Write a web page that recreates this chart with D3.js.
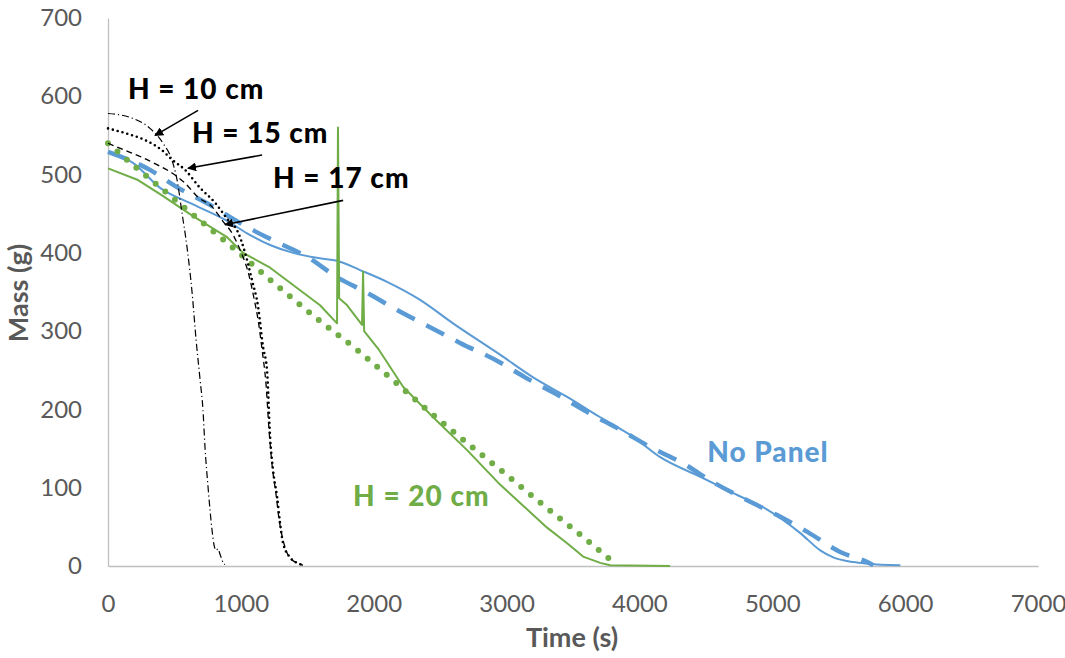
<!DOCTYPE html>
<html>
<head>
<meta charset="utf-8">
<script src="https://cdn.jsdelivr.net/npm/d3@7"></script>
<style>
  body { margin: 0; background: #fff; }
  #chart text { font-family: Lato, "Open Sans", sans-serif; }
</style>
</head>
<body>
<div id="chart"></div>
<script>
// Mass loss vs time, panel height series + no-panel reference
// values: [time s, mass g]

const xTicks = [0, 1000, 2000, 3000, 4000, 5000, 6000, 7000];
const yTicks = [0, 100, 200, 300, 400, 500, 600, 700];

const h10 = [[0,578],[166,573],[316,559],[414,540],[482,518],[520,493],[557,451],[595,407],
  [633,349],[663,289],[693,238],[715,199],[730,152],[753,101],[783,46],[798,27],[813,20],
  [828,22],[843,15],[858,8],[866,4],[880,2]];

const h15 = [[0,559],[128,553],[279,544],[407,531],[482,519],[580,506],[693,483],[806,464],
  [904,442],[971,429],[1032,400],[1084,365],[1130,331],[1167,280],[1197,250],[1220,165],
  [1242,123],[1273,88],[1295,55],[1318,29],[1370,11],[1423,4],[1483,1]];

const h17 = [[0,540],[128,531],[256,522],[376,512],[482,502],[580,489],[678,471],[783,459],
  [858,442],[941,423],[1001,401],[1054,376],[1099,342],[1130,314],[1160,276],[1190,231],
  [1212,174],[1235,129],[1265,91],[1288,59],[1318,33],[1355,14],[1408,5],[1468,1]];

const h20Exp = [[0,508],[226,493],[392,475],[640,447],[896,420],[1017,400],[1220,381],
  [1393,359],[1596,333],[1724,310],[1731,560],[1740,342],[1800,333],[1912,308],[1920,376],
  [1928,300],[2040,276],[2221,229],[2447,190],[2703,148],[2951,104],[3305,49],[3456,29],
  [3576,12],[3705,4],[3780,1],[4231,0]];

const h20Model = [[0,540],[218,508],[369,487],[595,455],[896,413],[1197,369],[1559,318],
  [1875,276],[2161,235],[2447,193],[2748,151],[2974,120],[3275,78],[3576,37],[3802,5]];

const noPanelExp = [[0,529],[188,515],[392,483],[640,462],[896,441],[1047,425],[1220,410],
  [1393,400],[1596,393],[1724,390],[1897,378],[2100,363],[2349,340],[2597,310],[2951,270],
  [3200,241],[3456,216],[3705,190],[3953,165],[4157,139],[4458,114],[4706,93],[4962,72],
  [5211,42],[5361,20],[5459,11],[5610,5],[5715,3],[5964,1]];

const noPanelModel = [[0,529],[316,506],[519,484],[790,459],[994,438],[1242,416],[1498,395],
  [1724,369],[1950,349],[2176,327],[2424,305],[2650,285],[2951,260],[3139,241],[3380,219],
  [3614,196],[3855,174],[4081,152],[4330,131],[4555,107],[4811,84],[5036,65],[5270,43],
  [5511,18],[5715,5],[5760,1]];

const blue = "#5b9bd5", green = "#70ad47", grey = "#595959";

const width = 1065, height = 658;
const margin = { top: 18, right: 27, bottom: 92, left: 108 };
const innerWidth  = width  - margin.left - margin.right;
const innerHeight = height - margin.top  - margin.bottom;

const svg = d3.select("#chart").append("svg")
  .attr("width", width)
  .attr("height", height);

const g = svg.append("g")
  .attr("transform", `translate(${margin.left},${margin.top})`);

const x = d3.scaleLinear().domain([0, 7000]).range([0, innerWidth]);
const y = d3.scaleLinear().domain([0, 700]).range([innerHeight, 0]);

// axes
const yAxis = g.append("g")
  .call(d3.axisLeft(y).tickValues(yTicks).tickFormat(d3.format("d"))
    .tickSize(0).tickSizeOuter(0).tickPadding(26));
const xAxis = g.append("g")
  .attr("transform", `translate(0,${innerHeight})`)
  .call(d3.axisBottom(x).tickValues(xTicks).tickFormat(d3.format("d"))
    .tickSize(0).tickSizeOuter(0).tickPadding(29));

[yAxis, xAxis].forEach(a => {
  a.select(".domain").attr("stroke", "#bfbfbf").attr("stroke-width", 1.3);
  a.selectAll("text")
    .style("font-size", "24px")
    .style("font-family", "Lato, sans-serif")
    .attr("fill", grey);
});

// axis titles
g.append("text")
  .attr("transform", "rotate(-90)")
  .attr("x", -(293 - margin.top))
  .attr("y", 28 - margin.left)
  .attr("text-anchor", "middle")
  .style("font-size", "27px")
  .style("font-weight", "bold")
  .attr("fill", grey)
  .text("Mass (g)");

g.append("text")
  .attr("x", 572 - margin.left)
  .attr("y", 647 - margin.top)
  .attr("text-anchor", "middle")
  .style("font-size", "27px")
  .style("font-weight", "bold")
  .attr("fill", grey)
  .text("Time (s)");

// lines
const line = d3.line()
  .x(d => x(d[0]))
  .y(d => y(d[1]))
  .curve(d3.curveMonotoneX);

const straight = d3.line()
  .x(d => x(d[0]))
  .y(d => y(d[1]));

const series = [
  { data: noPanelExp,   gen: line,     color: blue,   w: 2 },
  { data: noPanelModel, gen: line,     color: blue,   w: 4.5, dash: "20,13" },
  { data: h20Exp,       gen: straight, color: green,  w: 2 },
  { data: h20Model,     gen: line,     color: green,  w: 6, dash: "0,12.5", cap: "round" },
  { data: h17,          gen: line,     color: "#000", w: 1.3, dash: "6,4" },
  { data: h15,          gen: line,     color: "#000", w: 2.6, dash: "0,5", cap: "round" },
  { data: h10,          gen: line,     color: "#000", w: 1.2, dash: "7,3,1.2,3" }
];

series.forEach(s => {
  g.append("path")
    .datum(s.data)
    .attr("fill", "none")
    .attr("stroke", s.color)
    .attr("stroke-width", s.w)
    .attr("stroke-dasharray", s.dash || null)
    .attr("stroke-linecap", s.cap || "butt")
    .attr("stroke-linejoin", "round")
    .attr("d", s.gen);
});

// annotations (time, mass)
svg.append("defs").append("marker")
  .attr("id", "head")
  .attr("viewBox", "0 0 10 10")
  .attr("refX", 9).attr("refY", 5)
  .attr("markerWidth", 9).attr("markerHeight", 9)
  .attr("markerUnits", "userSpaceOnUse")
  .attr("orient", "auto")
  .append("path")
  .attr("d", "M0,0 L10,5 L0,10 Z")
  .attr("fill", "#000");

const labels = [
  { text: "H = 10 cm", t: 150,  m: 597, color: "#000" },
  { text: "H = 15 cm", t: 632,  m: 540, color: "#000" },
  { text: "H = 17 cm", t: 1242, m: 483, color: "#000" },
  { text: "H = 20 cm", t: 1845, m: 77,  color: green },
  { text: "No Panel",  t: 4510, m: 133, color: blue }
];

const arrows = [
  { from: [678, 582],  to: [354, 550] },
  { from: [1160, 525], to: [602, 508] },
  { from: [1770, 467], to: [881, 436] }
];

arrows.forEach(a => {
  g.append("line")
    .attr("x1", x(a.from[0])).attr("y1", y(a.from[1]))
    .attr("x2", x(a.to[0])).attr("y2", y(a.to[1]))
    .attr("stroke", "#000")
    .attr("stroke-width", 1.6)
    .attr("marker-end", "url(#head)");
});

labels.forEach(l => {
  g.append("text")
    .attr("x", x(l.t))
    .attr("y", y(l.m))
    .style("font-size", "28px")
    .style("font-weight", "900")
    .style("letter-spacing", "1px")
    .attr("fill", l.color)
    .text(l.text);
});
</script>
</body>
</html>
